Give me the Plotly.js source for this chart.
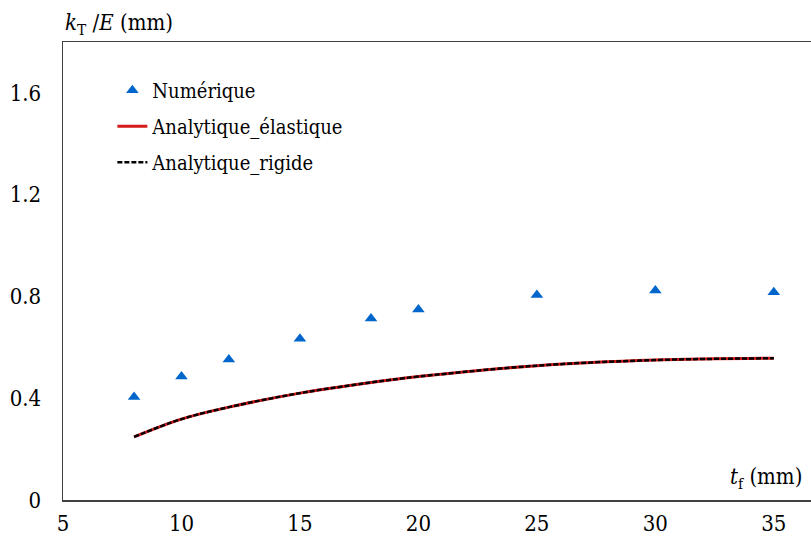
<!DOCTYPE html>
<html>
<head>
<meta charset="utf-8">
<script src="https://cdn.plot.ly/plotly-3.0.1.min.js"></script>
<style>html,body{margin:0;padding:0;background:#fff;}#chart{width:811px;height:537px;}</style>
</head>
<body>
<div id="chart"></div>
<script>
// Data
var tf = [8, 10, 12, 15, 18, 20, 25, 30, 35];
var numerique = [0.405, 0.485, 0.552, 0.634, 0.713, 0.749, 0.806, 0.823, 0.816];
var tfCurve = [8, 10, 12, 15, 18, 20, 25, 30, 35];
var analytiqueElastique = [0.248, 0.318, 0.365, 0.420, 0.462, 0.485, 0.528, 0.550, 0.557];
var analytiqueRigide = [0.248, 0.318, 0.365, 0.420, 0.462, 0.485, 0.528, 0.550, 0.557];
var xTicks = [5, 10, 15, 20, 25, 30, 35];
var yTicks = [0, 0.4, 0.8, 1.2, 1.6];
var yTickText = ['0', '0.4', '0.8', '1.2', '1.6'];

var FONT = 'DejaVu Serif Condensed, DejaVu Serif';

var traces = [
  {x: tf, y: numerique, type: 'scatter', mode: 'markers', name: 'Numérique',
   legendgroup: 'a',
   marker: {symbol: 'triangle-up', size: 11, color: '#0066CC'}},
  {x: tfCurve, y: analytiqueElastique, type: 'scatter', mode: 'lines', name: 'Analytique_élastique',
   legendgroup: 'b',
   line: {color: '#D41A1A', width: 3, shape: 'spline'}},
  {x: tfCurve, y: analytiqueRigide, type: 'scatter', mode: 'lines', name: 'Analytique_rigide',
   legendgroup: 'c',
   line: {color: '#000000', width: 2.5, dash: '5px,2px', shape: 'spline'}}
];

var layout = {
  width: 811, height: 537,
  margin: {l: 63, r: 0, t: 42, b: 37, pad: 0},
  paper_bgcolor: '#ffffff', plot_bgcolor: '#ffffff',
  font: {family: FONT, size: 20, color: '#000'},
  showlegend: true,
  legend: {x: 0.066, y: 0.937, xanchor: 'left', yanchor: 'top',
           bgcolor: 'rgba(0,0,0,0)', font: {family: FONT, size: 20, color: '#000'},
           traceorder: 'grouped', tracegroupgap: 7},
  xaxis: {range: [5, 36.57], tickmode: 'array', tickvals: xTicks, ticktext: xTicks.map(String),
          showgrid: false, zeroline: false, showline: true, linecolor: '#404040', linewidth: 1.5,
          mirror: true, ticks: '', ticklabelstandoff: 3, tickfont: {family: FONT, size: 22, color: '#000'}},
  yaxis: {range: [0, 1.8], tickmode: 'array', tickvals: yTicks, ticktext: yTickText,
          showgrid: false, zeroline: false, showline: true, linecolor: '#404040', linewidth: 1.5,
          mirror: false, ticks: '', ticklabelstandoff: 16, tickfont: {family: FONT, size: 22, color: '#000'}},
  annotations: [
    {xref: 'paper', yref: 'paper', x: 0, y: 1, xanchor: 'left', yanchor: 'bottom', yshift: 1, xshift: 0,
     showarrow: false, text: '<i>k</i><sub>T</sub> /<i>E</i> (mm)', font: {family: FONT, size: 22, color: '#000'}},
    {xref: 'paper', yref: 'paper', x: 0.99, y: 0, xanchor: 'right', yanchor: 'bottom', yshift: 5,
     showarrow: false, text: '<i>t</i><sub>f</sub> (mm)', font: {family: FONT, size: 22, color: '#000'}}
  ]
};

Plotly.newPlot('chart', traces, layout, {displayModeBar: false, staticPlot: true});
</script>
</body>
</html>
